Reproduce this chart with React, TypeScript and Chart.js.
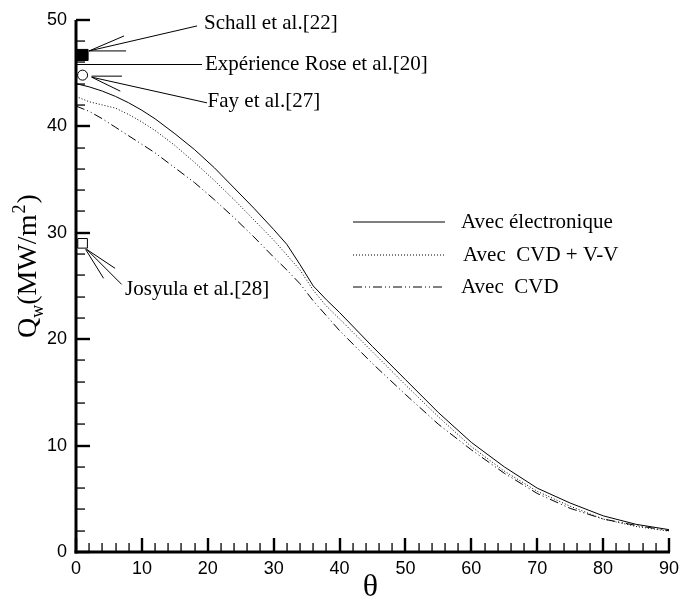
import React, { useEffect, useRef } from 'react';
import { Chart, registerables } from 'chart.js';

Chart.register(...registerables);

// ---- data ----
const theta = [0, 2, 4, 6, 8, 10, 12, 15, 18, 21, 24, 27, 30, 32, 34, 36, 38, 40, 45, 50, 55, 60, 65, 70, 75, 80, 85, 90];
const qElectronique = [44.0, 43.7, 43.3, 42.8, 42.2, 41.5, 40.7, 39.3, 37.8, 36.1, 34.2, 32.3, 30.3, 28.9, 27.0, 25.0, 23.7, 22.5, 19.3, 16.2, 13.1, 10.3, 8.0, 6.0, 4.6, 3.4, 2.6, 2.1];
const qCvdVV = [42.8, 42.3, 42.0, 41.7, 41.1, 40.4, 39.6, 38.2, 36.6, 34.9, 33.1, 31.2, 29.3, 27.9, 26.5, 24.6, 23.1, 21.9, 18.8, 15.7, 12.7, 9.9, 7.6, 5.7, 4.3, 3.1, 2.4, 1.95];
const qCvd = [41.9, 41.4, 40.7, 39.9, 39.1, 38.3, 37.5, 36.1, 34.7, 33.1, 31.4, 29.6, 27.7, 26.5, 25.2, 23.6, 22.2, 20.8, 17.7, 14.8, 12.0, 9.6, 7.4, 5.5, 4.1, 3.1, 2.5, 2.0];

const xTickValues = [0, 10, 20, 30, 40, 50, 60, 70, 80, 90];
const yTickValues = [0, 10, 20, 30, 40, 50];
const minorStep = 2;

const legendLabels = ['Avec électronique', 'Avec  CVD + V-V', 'Avec  CVD'];

const refNames = ['Schall et al.[22]', 'Fay et al.[27]', 'Josyula et al.[28]'];
const refTheta = [1.0, 1.0, 1.0];
const refQ = [46.7, 44.8, 29.0];
const roseLabel = 'Expérience Rose et al.[20]';
const roseQ = 45.8;

const SERIF = '"Liberation Serif", "Times New Roman", serif';
const SANS = '"Liberation Sans", Arial, sans-serif';

function seg(ctx: CanvasRenderingContext2D, x1: number, y1: number, x2: number, y2: number) {
  ctx.beginPath();
  ctx.moveTo(x1, y1);
  ctx.lineTo(x2, y2);
  ctx.stroke();
}

const decorPlugin = {
  id: 'decor',
  afterDraw(chart: any) {
    const { ctx, chartArea: a, scales } = chart;
    const xs = scales.x;
    const ys = scales.y;
    ctx.save();
    ctx.setLineDash([]);
    ctx.globalAlpha = 1;
    ctx.strokeStyle = '#000';
    ctx.fillStyle = '#000';

    const L = Math.round(a.left);
    const B = Math.round(a.bottom);
    const T = Math.round(a.top);
    const R = Math.round(a.right);

    // axes (filled rects)
    ctx.fillRect(L - 1.5, T, 3, B - T + 1.5);
    ctx.fillRect(L - 1.5, B - 1.5, R - L + 2.5, 3);

    // x ticks (inward)
    const xMin = xTickValues[0];
    const xMax = xTickValues[xTickValues.length - 1];
    for (let v = xMin; v <= xMax; v += minorStep) {
      const px = Math.round(xs.getPixelForValue(v));
      const major = xTickValues.includes(v);
      if (major) ctx.fillRect(px - 1.2, B - 14, 2.4, 14);
      else ctx.fillRect(px - 0.6, B - 9, 1.3, 9);
    }
    // y ticks (inward)
    const yMin = yTickValues[0];
    const yMax = yTickValues[yTickValues.length - 1];
    for (let v = yMin; v <= yMax; v += minorStep) {
      const py = Math.round(ys.getPixelForValue(v));
      const major = yTickValues.includes(v);
      if (major) ctx.fillRect(L, py - 1.2, 14, 2.4);
      else ctx.fillRect(L, py - 0.6, 9, 1.3);
    }

    // annotations
    ctx.lineWidth = 1;
    ctx.font = '21px ' + SERIF;
    ctx.textBaseline = 'middle';
    ctx.textAlign = 'left';

    // Schall
    {
      const mx = xs.getPixelForValue(refTheta[0]);
      const my = ys.getPixelForValue(refQ[0]);
      const sx = mx + 6.5, sy = my - 4;
      seg(ctx, sx, sy, mx + 114.5, my - 29);
      seg(ctx, sx, sy, mx + 41.5, my - 19);
      seg(ctx, sx, sy, mx + 43.5, my - 4);
      ctx.fillText(refNames[0], mx + 121.5, my - 31);
    }
    // Rose
    {
      const py = ys.getPixelForValue(roseQ);
      seg(ctx, a.left, py, a.left + 126, py);
      ctx.fillText(roseLabel, a.left + 129, py);
    }
    // Fay
    {
      const mx = xs.getPixelForValue(refTheta[1]);
      const my = ys.getPixelForValue(refQ[1]);
      seg(ctx, mx + 9, my + 2, mx + 124.4, my + 27.7);
      seg(ctx, mx + 9, my + 1, mx + 39.4, my + 1);
      seg(ctx, mx + 9, my + 2, mx + 37.7, my + 16);
      ctx.fillText(refNames[1], mx + 125, my + 26.7);
    }
    // Josyula
    {
      const mx = xs.getPixelForValue(refTheta[2]);
      const my = ys.getPixelForValue(refQ[2]);
      seg(ctx, mx + 4, my + 6, mx + 39, my + 41);
      seg(ctx, mx + 4, my + 6, mx + 32.5, my + 25);
      seg(ctx, mx + 3, my + 6, mx + 21, my + 35);
      ctx.fillText(refNames[2], mx + 42.5, my + 46);
    }

    // legend
    const legY = [222, 255, 287];
    const dashes = [[], [1, 2], [9, 3, 1, 3, 1, 3]];
    for (let i = 0; i < 3; i++) {
      ctx.setLineDash(dashes[i]);
      ctx.lineWidth = 1;
      seg(ctx, 353, legY[i], 445, legY[i]);
      ctx.setLineDash([]);
      ctx.fillText(legendLabels[i], i === 1 ? 463 : 461, legY[i]);
    }

    // x title
    ctx.font = '32px ' + SERIF;
    ctx.textAlign = 'center';
    ctx.textBaseline = 'alphabetic';
    ctx.fillText('θ', (a.left + a.right) / 2 - 2, 596);

    // y title with sub/superscript
    ctx.translate(36, 338);
    ctx.rotate(-Math.PI / 2);
    ctx.textAlign = 'left';
    let cx = 0;
    const big = '28px ' + SERIF;
    const small = '18px ' + SERIF;
    ctx.font = big;
    ctx.fillText('Q', cx, 0);
    cx += ctx.measureText('Q').width;
    ctx.font = small;
    ctx.fillText('w', cx, 7);
    cx += ctx.measureText('w').width;
    ctx.font = big;
    ctx.fillText('(MW/m', cx, 0);
    cx += ctx.measureText('(MW/m').width;
    ctx.font = small;
    ctx.fillText('2', cx + 1, -11);
    cx += ctx.measureText('2').width + 2;
    ctx.font = big;
    ctx.fillText(')', cx, 0);

    ctx.restore();
  },
};

export default function App() {
  const ref = useRef<HTMLCanvasElement | null>(null);

  useEffect(() => {
    document.body.style.margin = '0';
    const canvas = ref.current;
    if (!canvas) return;
    const mk = (arr: number[]) => theta.map((t, i) => ({ x: t, y: arr[i] }));
    const chart = new Chart(canvas, {
      type: 'scatter',
      data: {
        datasets: [
          { label: legendLabels[0], data: mk(qElectronique), showLine: true, borderColor: '#000', borderWidth: 1, pointRadius: 0, tension: 0 },
          { label: legendLabels[1], data: mk(qCvdVV), showLine: true, borderColor: '#000', borderWidth: 1, borderDash: [1, 2], pointRadius: 0, tension: 0 },
          { label: legendLabels[2], data: mk(qCvd), showLine: true, borderColor: '#000', borderWidth: 1, borderDash: [9, 3, 1, 3, 1, 3], pointRadius: 0, tension: 0 },
          { label: refNames[0], data: [{ x: refTheta[0], y: refQ[0] }], pointStyle: 'rect', pointRadius: 7.8, backgroundColor: '#000', borderColor: '#000', borderWidth: 1 },
          { label: refNames[1], data: [{ x: refTheta[1], y: refQ[1] }], pointStyle: 'circle', pointRadius: 5, backgroundColor: '#fff', borderColor: '#000', borderWidth: 1 },
          { label: refNames[2], data: [{ x: refTheta[2], y: refQ[2] }], pointStyle: 'rect', pointRadius: 6.8, backgroundColor: '#fff', borderColor: '#000', borderWidth: 1 },
        ],
      },
      options: {
        animation: false,
        responsive: false,
        maintainAspectRatio: false,
        layout: { padding: { top: 17, right: 18, left: 0, bottom: 0 } },
        plugins: { legend: { display: false }, tooltip: { enabled: false } },
        scales: {
          x: {
            type: 'linear',
            min: 0,
            max: 90,
            afterFit: (s: any) => { s.height = 47; },
            afterBuildTicks: (s: any) => { s.ticks = xTickValues.map((v) => ({ value: v })); },
            grid: { display: false, drawTicks: false },
            border: { display: false },
            ticks: { color: '#000', font: { family: SANS, size: 18 }, padding: 6, maxRotation: 0, autoSkip: false },
          },
          y: {
            type: 'linear',
            min: 0,
            max: 50,
            afterFit: (s: any) => { s.width = 76; },
            afterBuildTicks: (s: any) => { s.ticks = yTickValues.map((v) => ({ value: v })); },
            grid: { display: false, drawTicks: false },
            border: { display: false },
            ticks: { color: '#000', font: { family: SANS, size: 18 }, padding: 9, autoSkip: false },
          },
        },
      },
      plugins: [decorPlugin],
    });
    return () => chart.destroy();
  }, []);

  return (
    <div style={{ width: 687, height: 599, position: 'relative' }}>
      <canvas ref={ref} width={687} height={599} style={{ display: 'block' }} />
    </div>
  );
}
